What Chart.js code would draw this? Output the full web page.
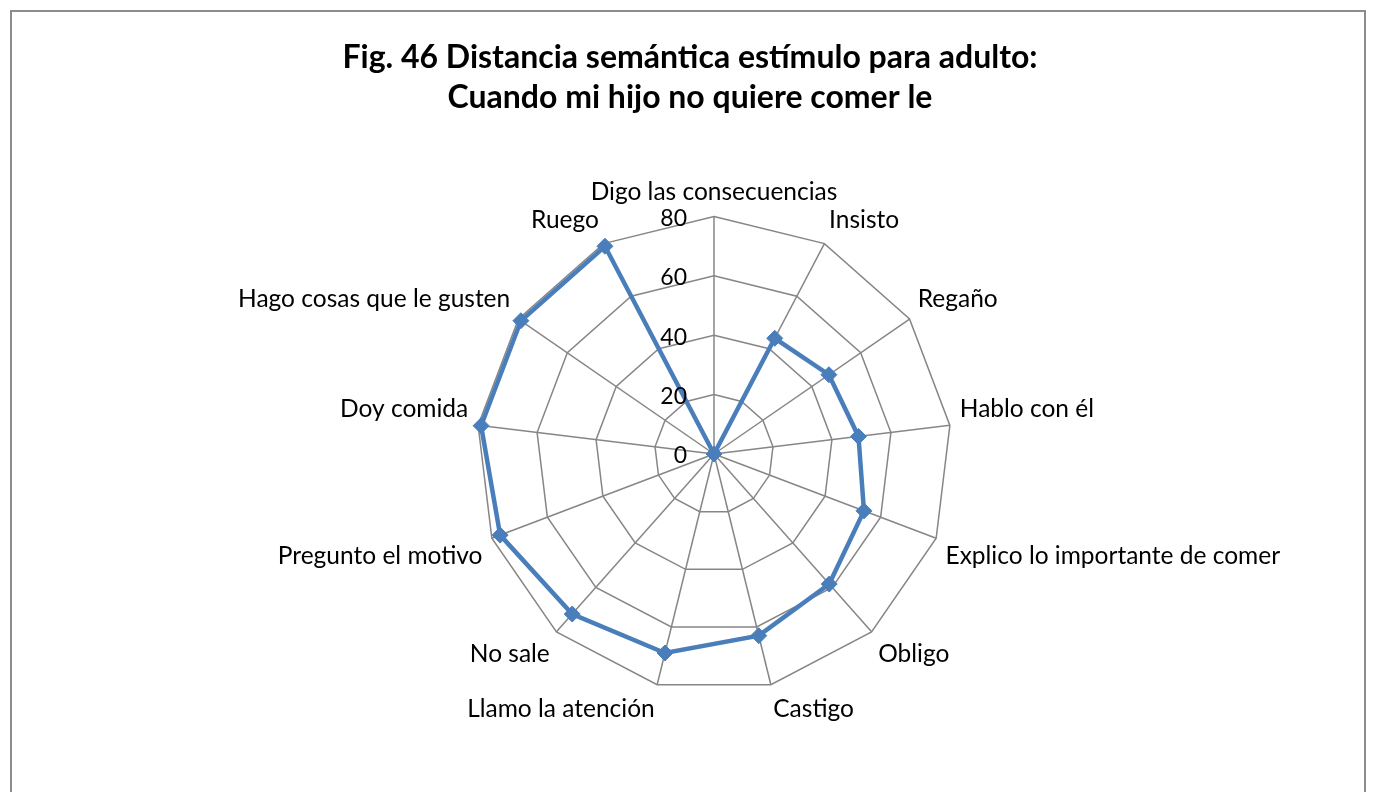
<!DOCTYPE html>
<html>
<head>
<meta charset="utf-8">
<script src="https://cdn.jsdelivr.net/npm/chart.js@4.4.1/dist/chart.umd.min.js"></script>
<style>
  body { margin: 0; background: #fff; }
  #marco {
    position: absolute; left: 10px; top: 10px;
    width: 1352px; height: 800px;
    border-top: 2px solid #8c8c8c; border-left: 2px solid #8c8c8c; border-right: 2px solid #8c8c8c;
  }
</style>
</head>
<body>
<div id="marco"><canvas id="chart" width="1352" height="780"></canvas></div>
<script>
// categorías (sentido horario desde arriba)
const categorias = [
  "Digo las consecuencias", "Insisto", "Regaño", "Hablo con él",
  "Explico lo importante de comer", "Obligo", "Castigo", "Llamo la atención",
  "No sale", "Pregunto el motivo", "Doy comida", "Hago cosas que le gusten", "Ruego"
];
// distancia semántica
const valores = [0, 44, 47, 49, 54, 58.5, 63, 69, 72, 77, 79, 79, 79];
const marcas = [0, 20, 40, 60, 80];

const titulo = ["Fig. 46 Distancia semántica estímulo para adulto:", "Cuando mi hijo no quiere comer le"];

const azul = "#4a7ebb";
const gris = "#868686";
const fuente = "Lato";

// etiquetas del eje (incluye el 0), alineadas a la izquierda del eje vertical
const etiquetasEje = {
  id: "etiquetasEje",
  afterDatasetsDraw(chart) {
    const r = chart.scales.r;
    const ctx = chart.ctx;
    ctx.save();
    ctx.font = "23px " + fuente;
    ctx.fillStyle = "#000";
    ctx.textAlign = "right";
    ctx.textBaseline = "middle";
    marcas.forEach((m) => {
      const d = r.getDistanceFromCenterForValue(m);
      ctx.fillText(String(m), r.xCenter - 27, r.yCenter - d + 2);
    });
    ctx.restore();
  },
};

// título centrado en el marco (no en el radar, que va algo a la derecha)
const tituloMarco = {
  id: "tituloMarco",
  afterDraw(chart) {
    const ctx = chart.ctx;
    ctx.save();
    ctx.font = "bold 32px " + fuente;
    ctx.fillStyle = "#000";
    ctx.textAlign = "center";
    ctx.textBaseline = "middle";
    titulo.forEach((t, i) => ctx.fillText(t, 678, 46 + i * 40));
    ctx.restore();
  },
};

new Chart(document.getElementById("chart").getContext("2d"), {
  type: "radar",
  data: {
    labels: categorias,
    datasets: [
      {
        label: "Distancia",
        data: valores,
        borderColor: azul,
        backgroundColor: azul,
        borderWidth: 4.5,
        fill: false,
        pointStyle: "rectRot",
        pointRadius: 8,
        pointBackgroundColor: azul,
        pointBorderColor: azul,
        pointBorderWidth: 1,
      },
    ],
  },
  options: {
    responsive: false,
    animation: false,
    layout: { padding: { left: 104, right: 48, top: 161, bottom: 64 } },
    plugins: {
      legend: { display: false },
      tooltip: { enabled: false },
      title: { display: false },
    },
    scales: {
      r: {
        min: 0,
        max: 80,
        ticks: { stepSize: 20, display: false },
        grid: { color: gris, lineWidth: 1.5 },
        angleLines: { color: gris, lineWidth: 1.5 },
        pointLabels: {
          color: "#000",
          padding: 10,
          font: { family: fuente, size: 24.5 },
        },
      },
    },
  },
  plugins: [etiquetasEje, tituloMarco],
});
</script>
</body>
</html>
